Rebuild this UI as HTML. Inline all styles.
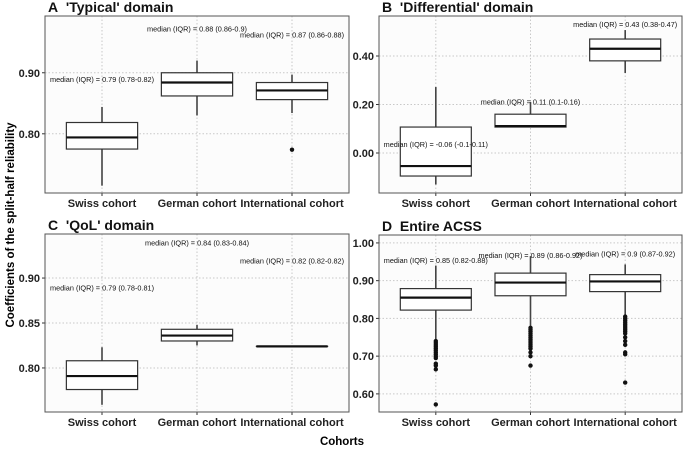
<!DOCTYPE html>
<html><head><meta charset="utf-8"><style>
html,body{margin:0;padding:0;background:#fff}
svg{display:block;font-family:"Liberation Sans",Arial,sans-serif}
</style></head><body>
<svg id="fig" width="684" height="450" viewBox="0 0 684 450">
<text x="10" y="225" transform="rotate(-90 10 225)" text-anchor="middle" font-size="11.5" font-weight="bold" dy="4">Coefficients of the split-half reliability</text>
<text x="342" y="445" text-anchor="middle" font-size="11.5" font-weight="bold">Cohorts</text>
</svg>
<script>
const categories = ["Swiss cohort","German cohort","International cohort"];
// A
const aStats = [[0.715,0.775,0.794,0.8185,0.844],[0.83,0.862,0.884,0.90,0.92],[0.834,0.856,0.871,0.884,0.897]];
const aOut = [[],[],[0.774]];
const aLabels = ["median (IQR) = 0.79 (0.78-0.82)","median (IQR) = 0.88 (0.86-0.9)","median (IQR) = 0.87 (0.86-0.88)"];
const aLabelY = [0.889,0.972,0.962];
const aTicks = [0.80,0.90];
// B
const bStats = [[-0.13,-0.095,-0.054,0.107,0.272],[0.107,0.107,0.111,0.16,0.21],[0.33,0.38,0.43,0.47,0.507]];
const bOut = [[],[],[]];
const bLabels = ["median (IQR) = -0.06 (-0.1-0.11)","median (IQR) = 0.11 (0.1-0.16)","median (IQR) = 0.43 (0.38-0.47)"];
const bLabelY = [0.035,0.21,0.53];
const bTicks = [0.00,0.20,0.40];
// C
const cStats = [[0.759,0.776,0.791,0.808,0.823],[0.825,0.830,0.836,0.843,0.848],[0.824,0.824,0.824,0.824,0.824]];
const cOut = [[],[],[]];
const cLabels = ["median (IQR) = 0.79 (0.78-0.81)","median (IQR) = 0.84 (0.83-0.84)","median (IQR) = 0.82 (0.82-0.82)"];
const cLabelY = [0.889,0.939,0.919];
const cTicks = [0.80,0.85,0.90];
// D
const dStats = [[0.745,0.822,0.855,0.879,0.94],[0.78,0.86,0.895,0.92,0.965],[0.81,0.871,0.898,0.916,0.943]];
const dOut = [[0.74,0.735,0.73,0.725,0.72,0.715,0.71,0.705,0.70,0.695,0.68,0.675,0.665,0.572],
              [0.775,0.77,0.765,0.76,0.755,0.75,0.745,0.74,0.735,0.73,0.725,0.72,0.71,0.70,0.675],
              [0.805,0.80,0.795,0.79,0.785,0.78,0.775,0.77,0.765,0.76,0.75,0.74,0.73,0.71,0.705,0.63]];
const dLabels = ["median (IQR) = 0.85 (0.82-0.88)","median (IQR) = 0.89 (0.86-0.92)","median (IQR) = 0.9 (0.87-0.92)"];
const dLabelY = [0.953,0.967,0.971];
const dTicks = [0.60,0.70,0.80,0.90,1.00];

const NS="http://www.w3.org/2000/svg";
const svg=document.getElementById('fig');
function mk(tag,attrs,parent){const e=document.createElementNS(NS,tag);for(const k in attrs)e.setAttribute(k,attrs[k]);(parent||svg).appendChild(e);return e;}

function panel(key,title,x0,x1,y0,y1,dmin,dmax,stats,outs,labels,labelY,ticks){
  const g=mk('g',{});
  
  
  const step=(x1-x0)/3.2;
  const xs=i=>x0+(i+0.6)*step;
  const ys=v=>y1-(v-dmin)/(dmax-dmin)*(y1-y0);
  const bg=mk('rect',{x:x0,y:y0,width:x1-x0,height:y1-y0,fill:'#fcfcfc'},g);
  
  
  ticks.forEach(t=>{
    const gl=mk('line',{x1:x0,x2:x1,y1:ys(t),y2:ys(t),stroke:'#c8c8c8','stroke-dasharray':'1.5,2','stroke-width':1},g);
    
    
    mk('line',{x1:x0-3,x2:x0,y1:ys(t),y2:ys(t),stroke:'#333'},g);
    const tl=mk('text',{x:x0-5,y:ys(t)+4,'text-anchor':'end','font-size':11,'font-weight':'bold',fill:'#222'},g);
    tl.textContent=t.toFixed(2);
    
    
  });
  categories.forEach((c,i)=>{
    mk('line',{x1:xs(i),x2:xs(i),y1:y0,y2:y1,stroke:'#c8c8c8','stroke-dasharray':'1.5,2'},g);
    mk('line',{x1:xs(i),x2:xs(i),y1:y1,y2:y1+3,stroke:'#333'},g);
    const xl=mk('text',{x:xs(i),y:y1+14,'text-anchor':'middle','font-size':11,'font-weight':'bold',fill:'#222'},g);
    xl.textContent=c;
    
    
  });
  const hw=0.375*step;
  stats.forEach((s,i)=>{
    const bx=mk('g',{},g);
    
    
    mk('line',{x1:xs(i),x2:xs(i),y1:ys(s[0]),y2:ys(s[1]),stroke:'#444','stroke-width':1.6},bx);
    mk('line',{x1:xs(i),x2:xs(i),y1:ys(s[3]),y2:ys(s[4]),stroke:'#444','stroke-width':1.6},bx);
    mk('rect',{x:xs(i)-hw,y:ys(s[3]),width:2*hw,height:Math.max(0.01,ys(s[1])-ys(s[3])),fill:'#fff',stroke:'#333','stroke-width':1.2},bx);
    mk('line',{x1:xs(i)-hw,x2:xs(i)+hw,y1:ys(s[2]),y2:ys(s[2]),stroke:'#111','stroke-width':2.2},bx);
    outs[i].forEach(v=>{
      const p=mk('circle',{cx:xs(i),cy:ys(v),r:2.2,fill:'#111'},bx);
      
      
    });
    const lb=mk('text',{x:xs(i),y:ys(labelY[i])+2.5,'text-anchor':'middle','font-size':7.3,fill:'#111'},g);
    lb.textContent=labels[i];
    
    
  });
  mk('rect',{x:x0,y:y0,width:x1-x0,height:y1-y0,fill:'none',stroke:'#555','stroke-width':1},g);
  const tt=mk('text',{x:x0+3,y:y0-4,'font-size':14,'font-weight':'bold',fill:'#111'},g);
  tt.textContent=title;
  
  
}
panel('a',"A\u00a0\u00a0'Typical' domain",45,349,16,193,0.703,0.993,aStats,aOut,aLabels,aLabelY,aTicks);
panel('b',"B\u00a0\u00a0'Differential' domain",379,682,16,193,-0.165,0.565,bStats,bOut,bLabels,bLabelY,bTicks);
panel('c',"C\u00a0\u00a0'QoL' domain",45,349,234,412,0.751,0.949,cStats,cOut,cLabels,cLabelY,cTicks);
panel('d',"D\u00a0\u00a0Entire ACSS",379,682,235,412,0.552,1.021,dStats,dOut,dLabels,dLabelY,dTicks);
</script>
</body></html>
